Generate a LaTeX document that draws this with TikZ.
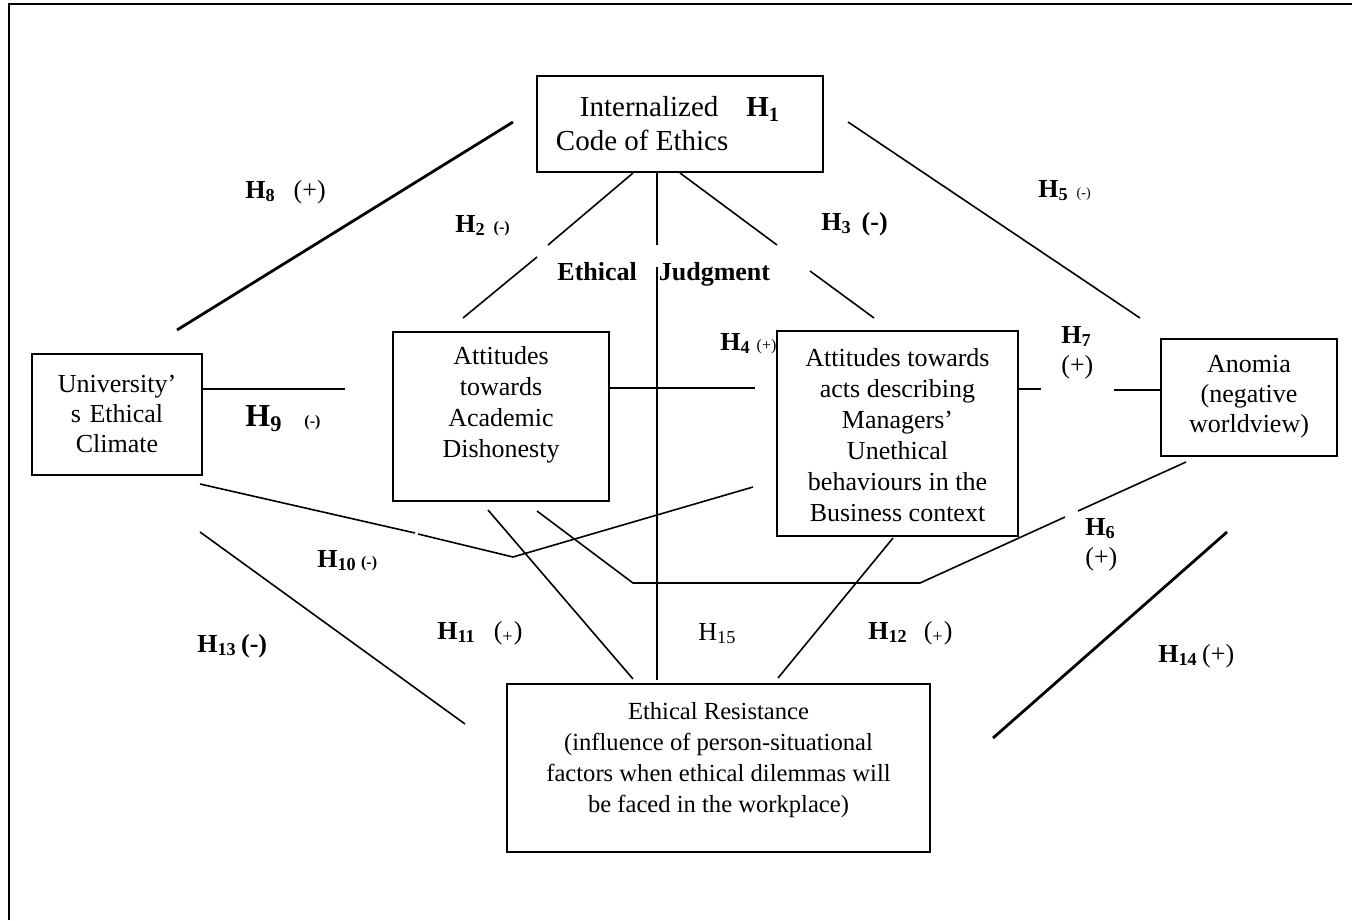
\documentclass[tikz,border=0pt]{standalone}
\usepackage{fontspec}
\setmainfont{Liberation Serif}
\newcommand{\Hb}[1]{\textbf{H\textsubscript{#1}}}
\newcommand{\smallsign}[2]{{\fontsize{#1}{#1}\selectfont #2}}
\begin{document}
\begin{tikzpicture}[x=0.5pt,y=-0.5pt,
    box/.style={draw, line width=0.75pt, inner sep=0pt},
    thickbox/.style={draw, line width=1.2pt, inner sep=0pt},
    txt/.style={align=center, inner sep=0pt, font=\fontsize{13}{15}\selectfont},
    hyp/.style={inner sep=0pt, anchor=base west, font=\fontsize{13}{15}\selectfont},
    link/.style={line width=0.8pt},
    thicklink/.style={line width=1.4pt}]
    \useasboundingbox (0,0) rectangle (1352,920);
    % frame (only left and top edges show)
    \draw[line width=0.9pt] (9,920) -- (9,4) -- (1352,4);

    % boxes
    \node[box, minimum width=143pt, minimum height=48pt] (code) at (680,124) {};
    \node[align=left, inner sep=0pt, font=\fontsize{14.5}{17}\selectfont] (codetext) at (668,124)
        {\hspace*{12pt}Internalized\hspace{14pt}\Hb{1}\\Code of Ethics};
    \node[box, minimum width=85pt, minimum height=60.5pt] (ucl) at (117,414.5) {};
    \node[txt, text width=85pt] (ucltext) at (117,414) {University’\\s Ethical\\Climate};
    \node[thickbox, minimum width=108pt, minimum height=84.5pt] (acd) at (501,416.5) {};
    \node[txt, font=\fontsize{13}{15.5}\selectfont] (acdtext) at (501,405) {Attitudes\\towards\\Academic\\Dishonesty};
    \node[thickbox, minimum width=120.5pt, minimum height=102.5pt] (mgr) at (897.5,433.5) {};
    \node[txt, font=\fontsize{13}{15.5}\selectfont] (mgrtext) at (897.5,435)
        {Attitudes towards\\acts describing\\Managers’\\Unethical\\behaviours in the\\Business context};
    \node[box, minimum width=88pt, minimum height=58.5pt] (ano) at (1249,397.5) {};
    \node[txt] (anotext) at (1249,397) {Anomia\\(negative\\worldview)};
    \node[box, minimum width=211.5pt, minimum height=84pt] (res) at (718.5,768) {};
    \node[txt, font=\fontsize{12.3}{15.5}\selectfont] (restext) at (718.5,760)
        {Ethical Resistance\\(influence of person-situational\\factors when ethical dilemmas will\\be faced in the workplace)};

    % line ends
    \coordinate (a1) at (513,122);  \coordinate (a2) at (177,330);
    \coordinate (b1) at (633,173);  \coordinate (b2) at (548,245);
    \coordinate (b3) at (537,257);  \coordinate (b4) at (463,318);
    \coordinate (v1) at (657,173);  \coordinate (v2) at (657,245);
    \coordinate (v3) at (657,267);  \coordinate (v4) at (657,680);
    \coordinate (d1) at (680,173);  \coordinate (d2) at (777,245);
    \coordinate (d3) at (810,271);  \coordinate (d4) at (874,318);
    \coordinate (e1) at (848,122);  \coordinate (e2) at (1140,318);
    \coordinate (f1) at (202,389);  \coordinate (f2) at (345,389);
    \coordinate (g1) at (609,388);  \coordinate (g2) at (755,388);
    \coordinate (k1) at (1018,389); \coordinate (k2) at (1041,389);
    \coordinate (k3) at (1114,390); \coordinate (k4) at (1161,390);
    \coordinate (m1) at (200,484);  \coordinate (m2) at (415,533);
    \coordinate (m3) at (418,534);  \coordinate (m4) at (513,557);
    \coordinate (m5) at (753,487);
    \coordinate (n1) at (488,510);  \coordinate (n2) at (633,679);
    \coordinate (p1) at (537,511);  \coordinate (p2) at (633,583);
    \coordinate (p3) at (920,583);  \coordinate (p4) at (1065,517);
    \coordinate (p5) at (1078,511); \coordinate (p6) at (1186,462);
    \coordinate (q1) at (893,538);  \coordinate (q2) at (778,678);
    \coordinate (r1) at (200,532);  \coordinate (r2) at (465,724);
    \coordinate (s1) at (1227,532); \coordinate (s2) at (993,738);

    % connectors
    \draw[thicklink] (a1) -- (a2);
    \draw[link] (b1) -- (b2) (b3) -- (b4);
    \draw[link] (v1) -- (v2) (v3) -- (v4);
    \draw[link] (d1) -- (d2) (d3) -- (d4);
    \draw[link] (e1) -- (e2);
    \draw[link] (f1) -- (f2);
    \draw[link] (g1) -- (g2);
    \draw[link] (k1) -- (k2) (k3) -- (k4);
    \draw[link] (m1) -- (m2) (m3) -- (m4) -- (m5);
    \draw[link] (n1) -- (n2);
    \draw[link] (p1) -- (p2) -- (p3) -- (p4) (p5) -- (p6);
    \draw[link] (q1) -- (q2);
    \draw[link] (r1) -- (r2);
    \draw[thicklink] (s1) -- (s2);

    % labels
    \node[hyp, font=\fontsize{13}{15}\bfseries] (ej) at (557,280) {Ethical\hspace{11pt}Judgment};
    \node[hyp] (h8) at (245,198) {\Hb{8}\hspace{9pt}(+)};
    \node[hyp] (h2) at (455,232) {\Hb{2}\hspace{4pt}\smallsign{8}{\textbf{(-)}}};
    \node[hyp] (h3) at (821,230) {\Hb{3}\hspace{5pt}\textbf{(-)}};
    \node[hyp] (h5) at (1038,197) {\Hb{5}\hspace{4pt}\smallsign{7}{(-)}};
    \node[hyp] (h4) at (720,350) {\Hb{4}\hspace{3pt}\smallsign{8}{(+)}};
    \node[hyp, align=left] (h7) at (1061,373) {\Hb{7}\\(+)};
    \node[hyp] (h9) at (245,426) {\fontsize{16}{16}\selectfont\Hb{9}\hspace{11pt}\smallsign{8}{\textbf{(-)}}};
    \node[hyp] (h10) at (317,567) {\Hb{10}\,\smallsign{8}{\textbf{(-)}}};
    \node[hyp] (h11) at (437,639) {\Hb{11}\hspace{9pt}(\textsubscript{+})};
    \node[hyp] (h13) at (197,652) {\Hb{13}\,\textbf{(-)}};
    \node[hyp] (h15) at (698,640) {H\textsubscript{15}};
    \node[hyp] (h12) at (868,639) {\Hb{12}\hspace{8pt}(\textsubscript{+})};
    \node[hyp] (h14) at (1158,662) {\Hb{14}\,(+)};
    \node[hyp, align=left] (h6) at (1085,565) {\Hb{6}\\(+)};
\end{tikzpicture}
\end{document}
